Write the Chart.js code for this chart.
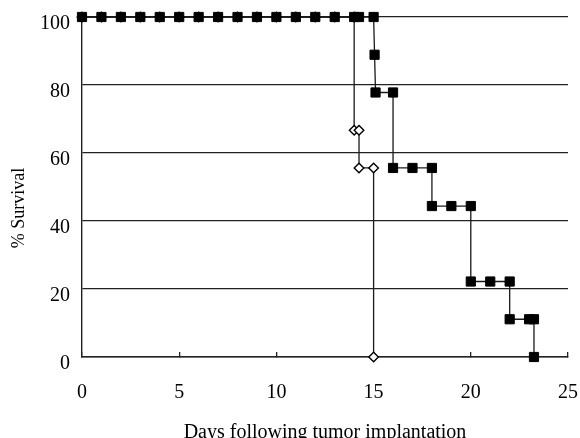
<!DOCTYPE html>
<html>
<head>
<meta charset="utf-8">
<script src="https://cdn.jsdelivr.net/npm/chart.js@4"></script>
<style>
  html, body { margin: 0; padding: 0; background: #fff; }
  #wrap { width: 580px; height: 438px; }
</style>
</head>
<body>
<div id="wrap"><canvas id="c" width="580" height="438"></canvas></div>
<script>
// Open diamonds series
const diamondDays     = [0,1,2,3,4,5,6,7,8,9,10,11,12,13,14,14,14.25,14.25,15,15];
const diamondSurvival = [100,100,100,100,100,100,100,100,100,100,100,100,100,100,100,66.7,66.7,55.6,55.6,0];
// Filled squares series
const squareDays     = [0,1,2,3,4,5,6,7,8,9,10,11,12,13,14,14.25,15,15.05,15.1,16,16,17,18,18,19,20,20,21,22,22,23,23.25,23.25];
const squareSurvival = [100,100,100,100,100,100,100,100,100,100,100,100,100,100,100,100,100,88.9,77.8,77.8,55.6,55.6,55.6,44.4,44.4,44.4,22.2,22.2,22.2,11.1,11.1,11.1,0];
// Axis settings
const xMin = 0, xMax = 25, xStep = 5;
const yMin = 0, yMax = 100, yStep = 20;
const xTitle = 'Days following tumor implantation';
const yTitle = '% Survival';

const toPoints = (xs, ys) => xs.map((x, i) => ({ x: x, y: ys[i] }));
const serif = 'Liberation Serif, Times New Roman, serif';

// Rotated y-axis title drawn as canvas text
const yTitlePlugin = {
  id: 'yTitle',
  afterDraw(chart) {
    const ctx = chart.ctx;
    ctx.save();
    ctx.translate(19, 208);
    ctx.rotate(-Math.PI / 2);
    ctx.font = '18px ' + serif;
    ctx.fillStyle = '#000';
    ctx.textAlign = 'center';
    ctx.textBaseline = 'middle';
    ctx.fillText(yTitle, 0, 0);
    ctx.restore();
  }
};

new Chart(document.getElementById('c'), {
  type: 'line',
  data: {
    datasets: [
      {
        label: 'squares',
        data: toPoints(squareDays, squareSurvival),
        borderColor: '#1a1a1a',
        borderWidth: 1.3,
        pointStyle: 'rect',
        pointRadius: 6.5,
        pointBackgroundColor: '#000',
        pointBorderColor: '#000',
        pointBorderWidth: 1,
        tension: 0,
        clip: false
      },
      {
        label: 'diamonds',
        data: toPoints(diamondDays, diamondSurvival),
        borderColor: '#1a1a1a',
        borderWidth: 1.3,
        pointStyle: 'rectRot',
        pointRadius: 4.8,
        pointBackgroundColor: '#fff',
        pointBorderColor: '#000',
        pointBorderWidth: 1.4,
        tension: 0,
        clip: false
      }
    ]
  },
  plugins: [yTitlePlugin],
  options: {
    responsive: false,
    devicePixelRatio: 1,
    animation: false,
    layout: { padding: { left: 0, right: 12, top: 17, bottom: 0 } },
    plugins: { legend: { display: false }, tooltip: { enabled: false } },
    scales: {
      x: {
        type: 'linear',
        min: xMin, max: xMax,
        ticks: { stepSize: xStep, color: '#000', font: { family: serif, size: 20 }, padding: 29, maxRotation: 0 },
        grid: { drawOnChartArea: false, drawTicks: true, tickLength: -5, color: '#222', lineWidth: 1.3 },
        border: { display: true, color: '#222', width: 1.4 },
        title: { display: true, text: xTitle, color: '#000', font: { family: serif, size: 20 }, padding: { top: 0, bottom: -7 } },
        afterFit: (s) => { s.height = 81; s.paddingLeft = 0; s.paddingRight = 0; }
      },
      y: {
        min: yMin, max: yMax,
        ticks: { stepSize: yStep, color: '#000', font: { family: serif, size: 20 }, padding: 12, labelOffset: 7 },
        grid: { drawTicks: false, color: '#222', lineWidth: 1.3 },
        border: { display: true, color: '#222', width: 1.4 },
        title: { display: false },
        afterFit: (s) => { s.width = 82; s.paddingTop = 0; s.paddingBottom = 0; }
      }
    }
  }
});
</script>
</body>
</html>
